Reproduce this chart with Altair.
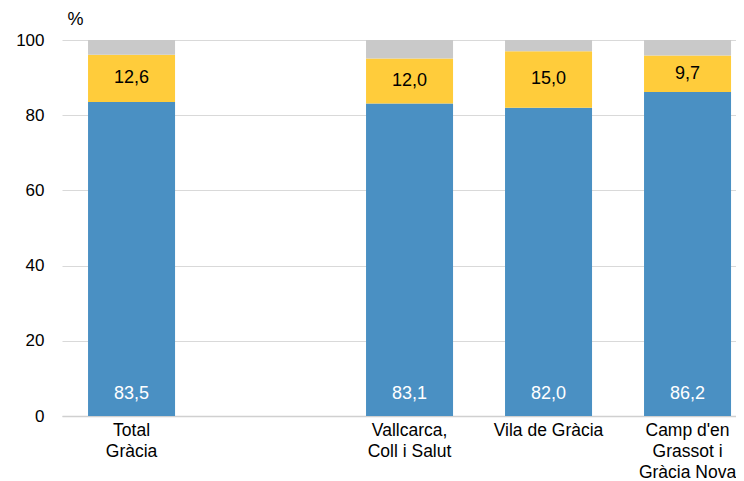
import altair as alt
import pandas as pd

categories = ["Total|Gràcia", "gap", "Vallcarca,|Coll i Salut", "Vila de Gràcia", "Camp d'en|Grassot i|Gràcia Nova"]
bar_categories = ["Total|Gràcia", "Vallcarca,|Coll i Salut", "Vila de Gràcia", "Camp d'en|Grassot i|Gràcia Nova"]
blue_vals = [83.5, 83.1, 82.0, 86.2]
yellow_vals = [12.6, 12.0, 15.0, 9.7]
gray_vals = [round(100 - b - y, 1) for b, y in zip(blue_vals, yellow_vals)]
series = ["blue", "yellow", "gray"]
colors = ["#4a90c3", "#ffcc3b", "#c9c9c9"]

rows = []
for i, c in enumerate(bar_categories):
    for k, (s, v) in enumerate(zip(series, [blue_vals[i], yellow_vals[i], gray_vals[i]])):
        rows.append({"cat": c, "series": s, "value": v, "ord": k})
df = pd.DataFrame(rows)

lab = pd.DataFrame({
    "cat": bar_categories,
    "blue": blue_vals,
    "yellow": yellow_vals,
    "blue_txt": [f"{v:.1f}".replace(".", ",") for v in blue_vals],
    "yellow_txt": [f"{v:.1f}".replace(".", ",") for v in yellow_vals],
})
lab["mid"] = lab["blue"] + lab["yellow"] / 2
lab["zero"] = 0.0

FONT = "Liberation Sans"

xscale = alt.Scale(domain=categories, paddingInner=0.374, paddingOuter=0.1115, align=0.84)
yscale = alt.Scale(domain=[0, 100])

x = alt.X("cat:N", scale=xscale, sort=categories, title=None,
          axis=alt.Axis(labelAngle=0, ticks=False, labelPadding=5,
                        labelExpr="datum.value == 'gap' ? '' : split(datum.value, '|')",
                        labelFont=FONT, labelFontSize=17.5, labelColor="#000000",
                        labelLineHeight=21, labelBaseline="top",
                        domainColor="#d0d0d0", domainWidth=1.5, grid=False))

bars = alt.Chart(df).mark_bar().encode(
    x=x,
    y=alt.Y("value:Q", stack="zero", scale=yscale,
            axis=alt.Axis(values=[0, 20, 40, 60, 80, 100], title="%", titleAngle=0,
                          titleX=13, titleY=-16, titleAlign="center", titleBaseline="alphabetic",
                          titleFont=FONT, titleFontSize=18, titleFontWeight="normal", titleColor="#000000",
                          labelFont=FONT, labelFontSize=17, labelColor="#000000", labelPadding=18,
                          ticks=False, domain=False, gridColor="#d9d9d9", gridWidth=1)),
    color=alt.Color("series:N", scale=alt.Scale(domain=series, range=colors), legend=None),
    order=alt.Order("ord:Q"),
)

blue_text = alt.Chart(lab).mark_text(font=FONT, fontSize=18, color="white", dy=-22, baseline="middle").encode(
    x=alt.X("cat:N", scale=xscale, sort=categories),
    y=alt.Y("zero:Q", scale=yscale),
    text="blue_txt:N",
)
yellow_text = alt.Chart(lab).mark_text(font=FONT, fontSize=18, color="black", baseline="middle").encode(
    x=alt.X("cat:N", scale=xscale, sort=categories),
    y=alt.Y("mid:Q", scale=yscale),
    text="yellow_txt:N",
)

chart = alt.layer(bars, blue_text, yellow_text).properties(
    width=674, height=376,
    autosize=alt.AutoSizeParams(type="none"),
    padding={"left": 54, "top": 32, "right": 0, "bottom": 65},
).configure_view(stroke=None)

chart.save("out.html", embed_options={"renderer": "svg", "actions": False})
